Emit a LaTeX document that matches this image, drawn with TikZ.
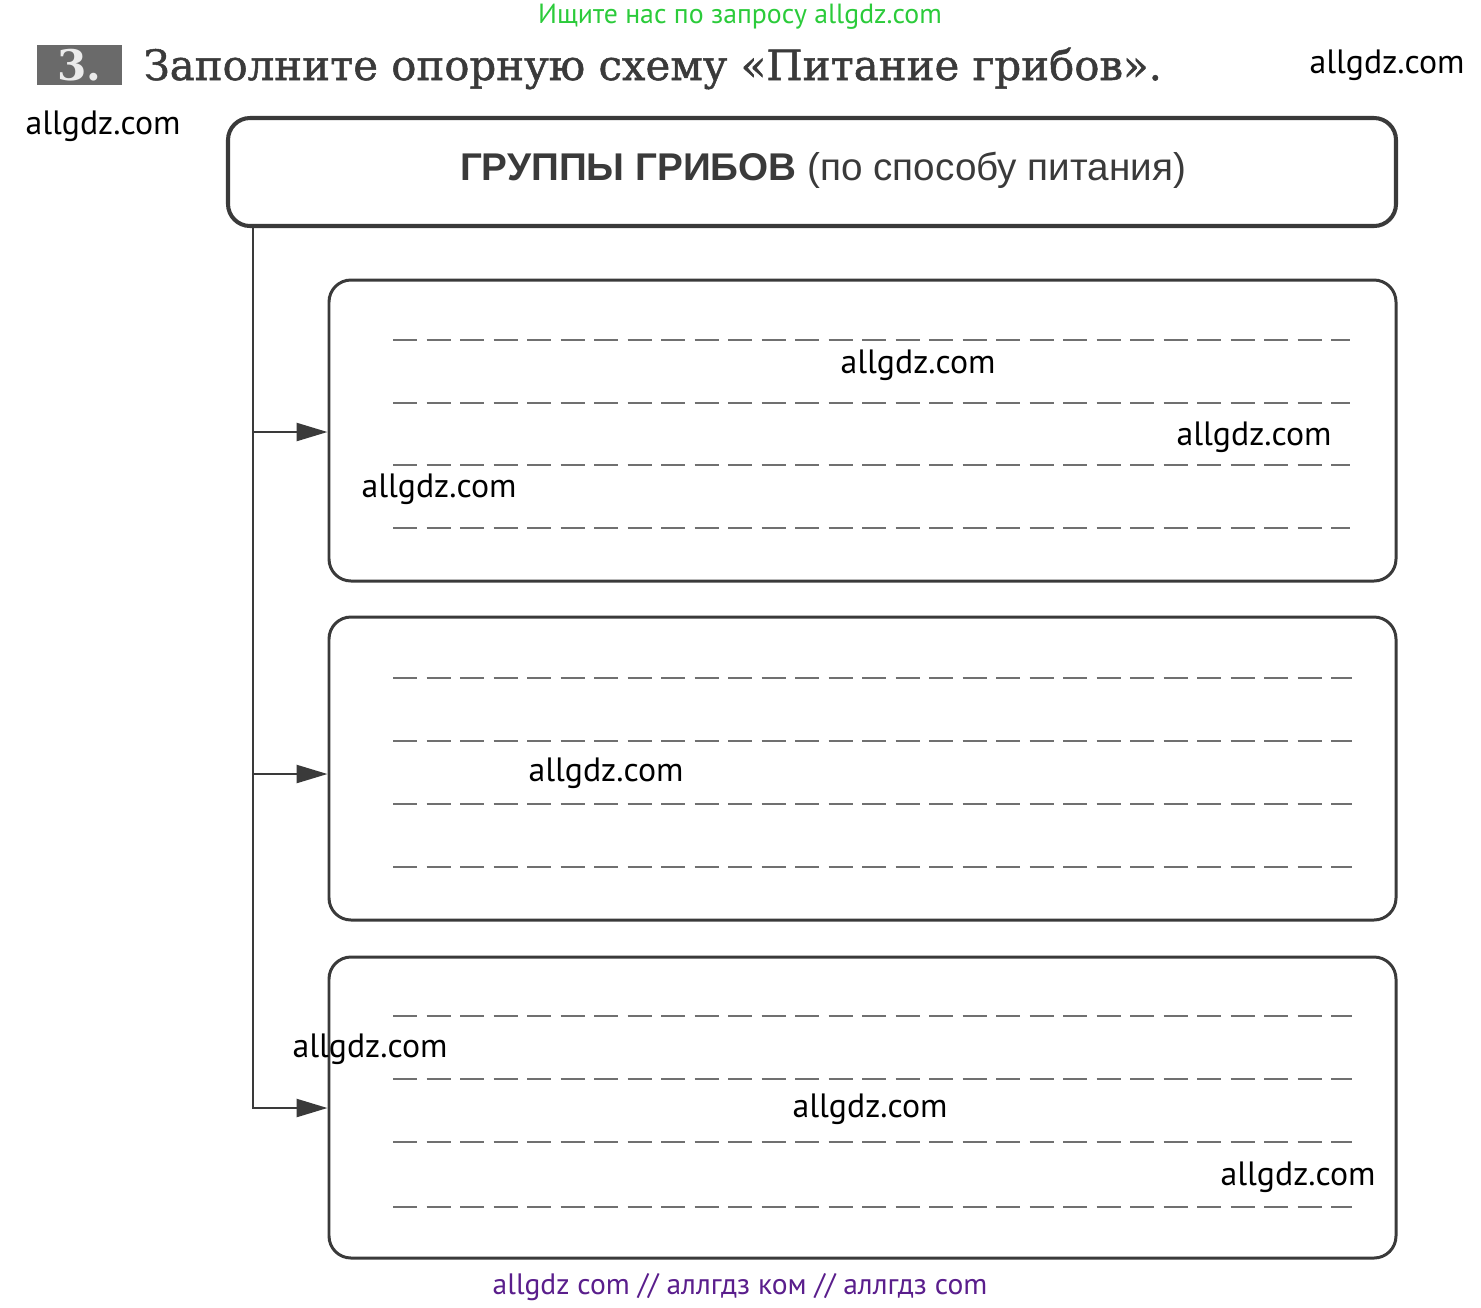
\documentclass[tikz,border=0pt]{standalone}
\usepackage{fontspec}
\setmainfont{DejaVu Serif}
\setsansfont{Liberation Sans}
\newfontfamily\markfont{PT Sans}
\newfontfamily\taskfont[FakeBold=1.2]{DejaVu Serif}
\usetikzlibrary{arrows.meta}
\definecolor{inkgray}{HTML}{3A3A3A}
\definecolor{dashgray}{HTML}{707070}
\definecolor{numgray}{HTML}{6A6A6A}
\definecolor{markgreen}{HTML}{2BCB3A}
\definecolor{markpurple}{HTML}{5A1E8C}
\tikzset{headbox/.style={draw=inkgray, line width=1.15pt, rounded corners=0.22cm, minimum width=11.68cm, minimum height=1.08cm}}
\tikzset{groupbox/.style={draw=inkgray, line width=0.85pt, rounded corners=0.22cm, minimum width=10.67cm, minimum height=3.01cm}}
\tikzset{feed/.style={draw=inkgray, line width=0.7pt}}
\tikzset{feedarrow/.style={feed, -{Triangle[length=0.31cm,width=0.18cm]}}}
\tikzset{fillline/.style={draw=dashgray, line width=0.75pt, dash pattern=on 0.24cm off 0.095cm}}
\tikzset{wmark/.style={font=\markfont\fontsize{9.6}{10}\selectfont, inner sep=0pt}}

\begin{document}
\begin{tikzpicture}
        \useasboundingbox (0,0) rectangle (14.81,-13.07);
        % task heading
        \node[fill=numgray, text=white!92!black, minimum width=0.85cm, minimum height=0.40cm, inner sep=0pt, font=\bfseries\fontsize{12}{12}\selectfont] (num) at (0.795,-0.65) {3.};
        \node[anchor=base west, inner sep=0pt, text=inkgray, font=\taskfont\fontsize{11.9}{13}\selectfont] (task) at (1.43,-0.80) {Заполните опорную схему «Питание грибов».};

        % groups
        \node[headbox] (hd) at (8.12,-1.72) {};
        \node[inner sep=0pt, text=inkgray, font=\sffamily\fontsize{11}{12}\selectfont] (hdtitle) at (8.23,-1.70) {\textbf{ГРУППЫ ГРИБОВ} (по способу питания)};
        \node[groupbox] (b1) at (8.625,-4.305) {};
        \node[groupbox, minimum height=3.03cm] (b2) at (8.625,-7.685) {};
        \node[groupbox] (b3) at (8.625,-11.075) {};

        \coordinate (j1) at (2.53,-4.32);
        \coordinate (j2) at (2.53,-7.74);
        \coordinate (j3) at (2.53,-11.08);
        \draw[feedarrow] (hd.south -| j1) |- (b3.west |- j3);
        \draw[feedarrow] (j1) -- (b1.west |- j1);
        \draw[feedarrow] (j2) -- (b2.west |- j2);

        % lines to fill in
        \draw[fillline] (3.93,-3.40) -- (13.50,-3.40);
        \draw[fillline] (3.93,-4.03) -- (13.50,-4.03);
        \draw[fillline] (3.93,-4.65) -- (13.50,-4.65);
        \draw[fillline] (3.93,-5.28) -- (13.50,-5.28);
        \draw[fillline] (3.93,-6.78) -- (13.52,-6.78);
        \draw[fillline] (3.93,-7.41) -- (13.52,-7.41);
        \draw[fillline] (3.93,-8.04) -- (13.52,-8.04);
        \draw[fillline] (3.93,-8.67) -- (13.52,-8.67);
        \draw[fillline] (3.93,-10.16) -- (13.52,-10.16);
        \draw[fillline] (3.93,-10.79) -- (13.52,-10.79);
        \draw[fillline] (3.93,-11.42) -- (13.52,-11.42);
        \draw[fillline] (3.93,-12.07) -- (13.52,-12.07);

        % watermarks
        \node[wmark, text=markgreen, font=\markfont\fontsize{7.9}{8}\selectfont] (wtop) at (7.40,-0.17) {Ищите нас по запросу allgdz.com};
        \node[wmark] (w1) at (13.87,-0.65) {allgdz.com};
        \node[wmark] (w2) at (1.03,-1.26) {allgdz.com};
        \node[wmark] (w3) at (9.18,-3.65) {allgdz.com};
        \node[wmark] (w4) at (12.54,-4.37) {allgdz.com};
        \node[wmark] (w5) at (4.39,-4.89) {allgdz.com};
        \node[wmark] (w6) at (6.06,-7.73) {allgdz.com};
        \node[wmark] (w7) at (3.70,-10.49) {allgdz.com};
        \node[wmark] (w8) at (8.70,-11.09) {allgdz.com};
        \node[wmark] (w9) at (12.98,-11.77) {allgdz.com};
        \node[wmark, text=markpurple, font=\markfont\fontsize{8.4}{9}\selectfont] (wbot) at (7.40,-12.87) {allgdz com  //  аллгдз ком  //  аллгдз com};
\end{tikzpicture}
\end{document}
